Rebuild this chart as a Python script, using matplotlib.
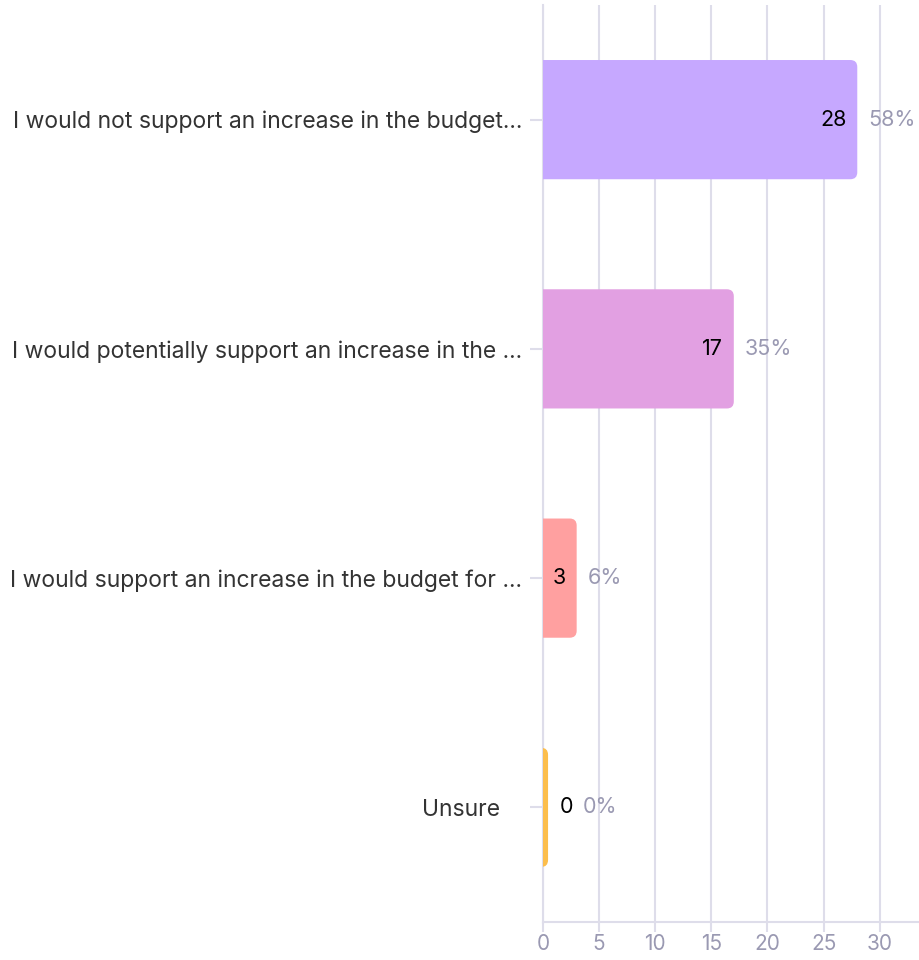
import numpy as np
import matplotlib.pyplot as plt
from matplotlib.patches import FancyBboxPatch
from matplotlib import transforms

plt.rcParams['font.family'] = ['Inter', 'DejaVu Sans']

categories = [
    "I would not support an increase in the budget...",
    "I would potentially support an increase in the ...",
    "I would support an increase in the budget for ...",
    "Unsure",
]
counts = [28, 17, 3, 0]
percents = ["58%", "35%", "6%", "0%"]
colors = ["#C6A8FF", "#E2A0E2", "#FFA0A0", "#FCBE4C"]

grid_col = "#DEDDEA"
tick_col = "#9A99B2"

fig = plt.figure(figsize=(9.19, 9.6), dpi=100)
ax = fig.add_axes([543 / 919, 38 / 960, 1 - 543 / 919, (955 - 38) / 960])

ypos = np.arange(len(categories))
bar_h = 0.52
min_w = 0.45  # stub drawn for zero values

# x unit ~11.2 px, y unit ~229 px; round right corners ~7px, left corners clipped
rs = 0.62
for y, v, c in zip(ypos, counts, colors):
    w = max(v, min_w)
    ax.add_patch(FancyBboxPatch((-2, y - bar_h / 2), w + 2, bar_h,
                                boxstyle="round,pad=0,rounding_size=%g" % rs,
                                mutation_aspect=0.049,
                                facecolor=c, edgecolor='none', zorder=3))

off = transforms.offset_copy
for y, v, p in zip(ypos, counts, percents):
    if v > 0:
        ax.text(v, y, str(v), transform=off(ax.transData, fig=fig, x=-11, y=0, units='dots'),
                ha='right', va='center', fontsize=15.5, color='black', zorder=4)
        ax.text(v, y, p, transform=off(ax.transData, fig=fig, x=11, y=0, units='dots'),
                ha='left', va='center', fontsize=15.5, color=tick_col, zorder=4)
    else:
        ax.text(min_w, y, str(v), transform=off(ax.transData, fig=fig, x=12, y=0, units='dots'),
                ha='left', va='center', fontsize=15.5, color='black', zorder=4)
        ax.text(min_w, y, p, transform=off(ax.transData, fig=fig, x=35, y=0, units='dots'),
                ha='left', va='center', fontsize=15.5, color=tick_col, zorder=4)

ax.set_xlim(0, 33.5)
ax.set_ylim(3.5, -0.5)
ax.set_xticks([0, 5, 10, 15, 20, 25, 30])
ax.set_yticks(ypos)
ax.set_yticklabels(categories)
ax.grid(True, axis='x', color=grid_col, linewidth=1.5, zorder=0)
for s in ['top', 'right']:
    ax.spines[s].set_visible(False)
ax.spines['left'].set_color(grid_col)
ax.spines['bottom'].set_color(grid_col)
ax.spines['left'].set_linewidth(1.5)
ax.spines['bottom'].set_linewidth(1.5)
ax.tick_params(axis='x', colors=grid_col, labelcolor=tick_col, labelsize=15,
               length=7, width=1.5, pad=2)
ax.tick_params(axis='y', colors=grid_col, labelcolor='#333333', labelsize=16.5,
               length=9.5, width=1.5, pad=5.5)

# the short "Unsure" label sits a little further left in the original
lbl = ax.get_yticklabels()[-1]
lbl.set_transform(lbl.get_transform() + transforms.ScaledTranslation(-22 / 100, 0, fig.dpi_scale_trans))

fig.savefig('out.png', dpi=100)
